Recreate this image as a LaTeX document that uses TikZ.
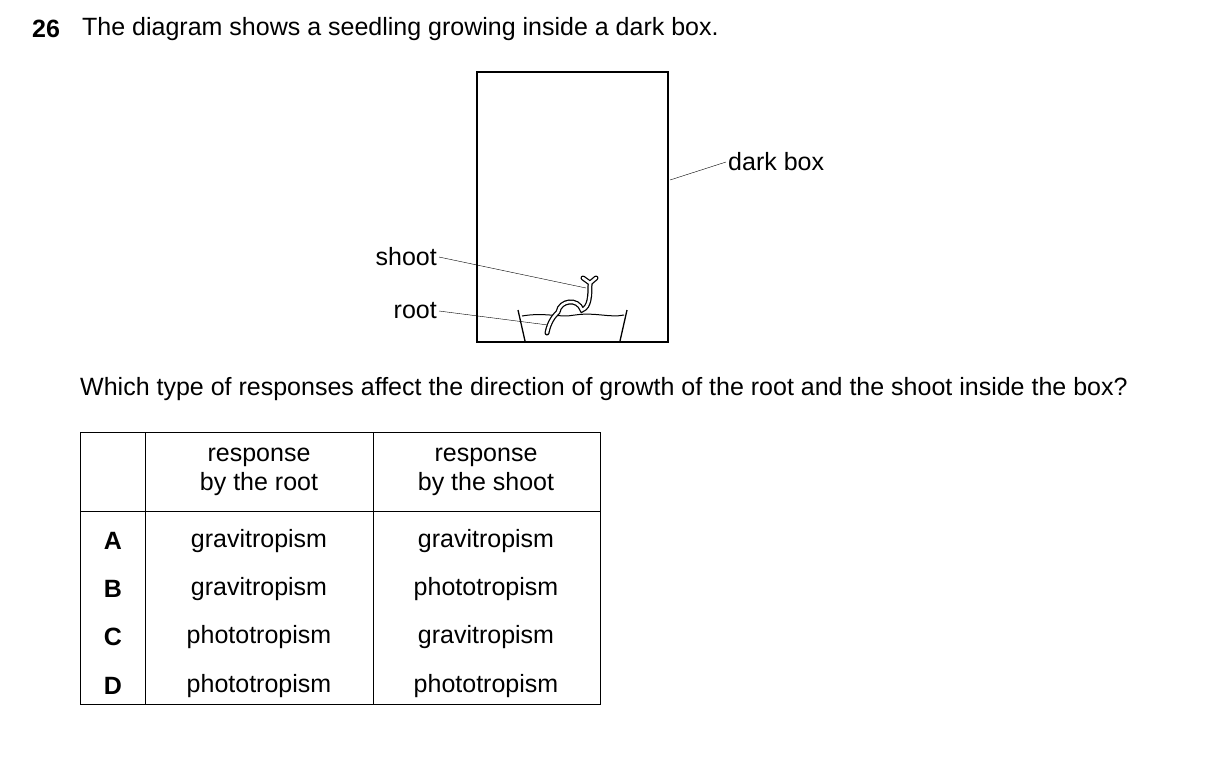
\documentclass[tikz,border=0pt]{standalone}
\usepackage{fontspec}
\setmainfont{Liberation Sans}
\begin{document}
\begin{tikzpicture}[x=1pt,y=-1pt,
  every node/.style={font=\fontsize{25}{29}\selectfont,inner sep=0pt},
  lbl/.style={anchor=east,inner sep=2pt},
  cell/.style={align=center}]
  \useasboundingbox (0,0) rectangle (1209,756);
  % heading
  \node[anchor=west] (num) at (32,29) {\bfseries 26};
  \node[anchor=west] (q) at (82,29) {The diagram shows a seedling growing inside a dark box.};
  % box
  \draw[line width=1.5pt] (477,72) rectangle (668,342);
  \draw[line width=2.5pt] (525,342) -- (620,342);
  % dish
  \draw[line width=1.3pt] (518,310) -- (525,341);
  \draw[line width=1.3pt] (627,310) -- (620,341);
  \draw[line width=1pt] (522,316) .. controls (545,312) and (560,318) .. (575,315)
    .. controls (595,312) and (610,318) .. (624,315);
  % seedling
  \foreach \w/\c in {5pt/black,2.5pt/white}{
    \draw[line width=\w,\c,line cap=round] (547,333) .. controls (549,322) and (554,316) .. (558,312)
      .. controls (560,300) and (578,298) .. (582,310)
      .. controls (590,307) and (590,295) .. (590,283);
    \draw[line width=\w,\c,line cap=round] (583,278) -- (590,283) -- (596,278);
  }
  % labels
  \node[anchor=west,inner sep=2pt] (dark) at (726,162) {dark box};
  \coordinate (darkpt) at (670,180);
  \draw (darkpt) -- (dark.west);
  \node[lbl] (shoot) at (439,257) {shoot};
  \coordinate (shootpt) at (586,288);
  \draw (shoot.east) -- (shootpt);
  \node[lbl] (root) at (439,311) {root};
  \coordinate (rootpt) at (548,325);
  \draw (root.east) -- (rootpt);
  % question
  \node[anchor=west] (q2) at (80,389) {Which type of responses affect the direction of growth of the root and the shoot inside the box?};
  % table
  \draw[line width=1pt] (80,432) rectangle (600,704);
  \draw[line width=1pt] (145,432) -- (145,704);
  \draw[line width=1pt] (373,432) -- (373,704);
  \draw[line width=1pt] (80,511) -- (600,511);
  \node[cell] (h1) at (259,472) {response\\by the root};
  \node[cell] (h2) at (486,472) {response\\by the shoot};
  \foreach \r/\y/\a/\b in {A/541/gravitropism/gravitropism,B/589/gravitropism/phototropism,
    C/637/phototropism/gravitropism,D/686/phototropism/phototropism}{
    \node (l\r) at (113,\y) {\bfseries\r};
    \node (a\r) at (259,\y) {\a};
    \node (b\r) at (486,\y) {\b};
  }
\end{tikzpicture}
\end{document}
